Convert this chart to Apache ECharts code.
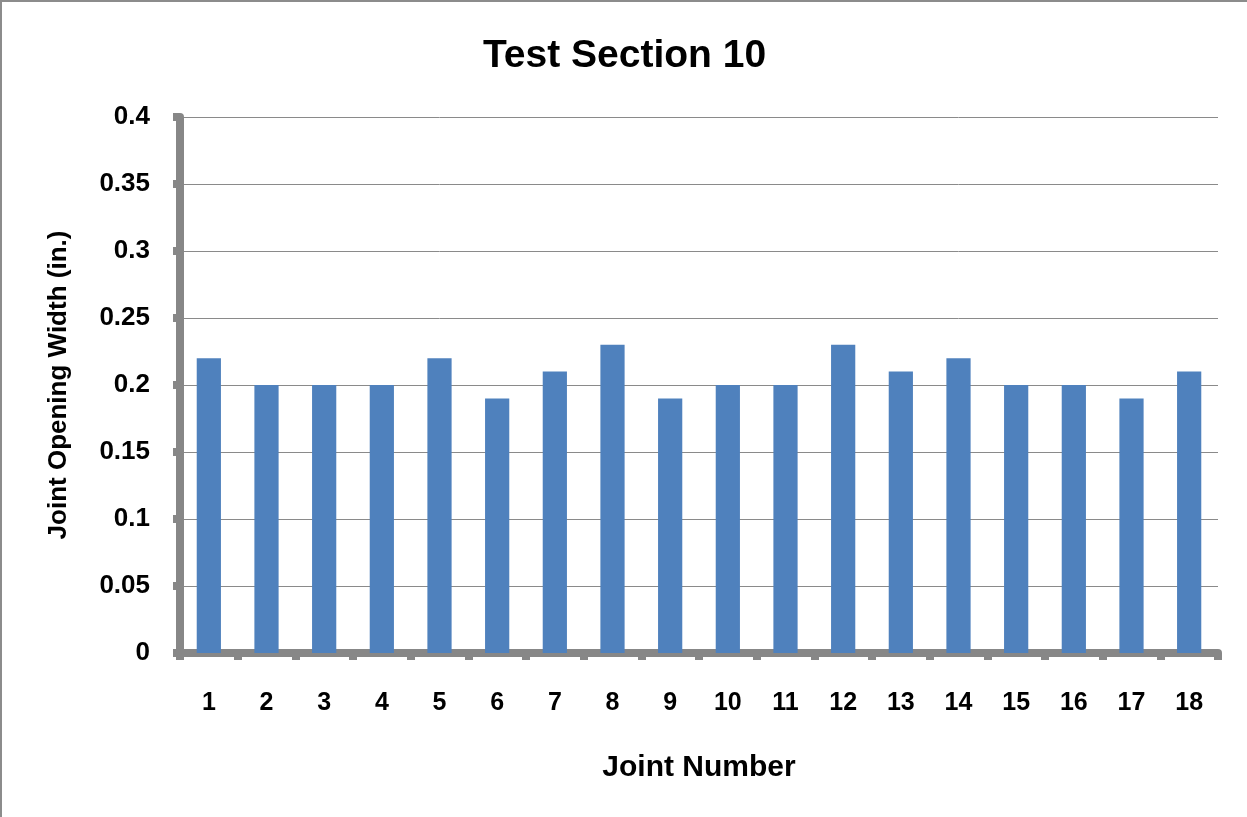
<!DOCTYPE html>
<html>
<head>
<meta charset="utf-8">
<script src="https://cdn.jsdelivr.net/npm/echarts@6/dist/echarts.min.js"></script>
<style>
  html, body { margin: 0; padding: 0; background: #fff; }
  #chart { position: absolute; left: 0; top: 0; width: 1247px; height: 817px; box-sizing: border-box; border-top: 2px solid #8c8c8c; border-left: 2px solid #8c8c8c; }
</style>
</head>
<body>
<div id="chart"></div>
<script>
// joint numbers and measured opening widths
const joints = ['1', '2', '3', '4', '5', '6', '7', '8', '9', '10', '11', '12', '13', '14', '15', '16', '17', '18']
const widths = [0.22, 0.20, 0.20, 0.20, 0.22, 0.19, 0.21, 0.23, 0.19, 0.20, 0.20, 0.23, 0.21, 0.22, 0.20, 0.20, 0.19, 0.21]

const font = 'Liberation Sans'
const axisGray = '#878787'

const myChart = echarts.init(document.getElementById('chart'))
myChart.setOption({
  animation: false,
  title: {
    text: 'Test Section 10',
    left: 'center',
    top: 30,
    textStyle: {fontFamily: font, fontWeight: 'bold', fontSize: 39, color: '#000'}
  },
  grid: {left: 178, right: 29, top: 115, bottom: 164},
  xAxis: {
    type: 'category',
    data: joints,
    name: 'Joint Number',
    nameLocation: 'middle',
    nameGap: 100,
    nameTextStyle: {fontFamily: font, fontWeight: 'bold', fontSize: 30, color: '#000'},
    axisLine: {lineStyle: {color: axisGray, width: 8}},
    axisTick: {show: true, length: 7, lineStyle: {color: axisGray, width: 8}},
    axisLabel: {margin: 38, fontFamily: font, fontWeight: 'bold', fontSize: 25, color: '#000'}
  },
  yAxis: {
    type: 'value',
    min: 0,
    max: 0.4,
    interval: 0.05,
    name: 'Joint Opening Width (in.)',
    nameLocation: 'middle',
    nameGap: 108,
    nameTextStyle: {fontFamily: font, fontWeight: 'bold', fontSize: 26, color: '#000'},
    axisLine: {show: true, lineStyle: {color: axisGray, width: 8}},
    axisTick: {show: true, length: 7, lineStyle: {color: axisGray, width: 8}},
    axisLabel: {margin: 30, fontFamily: font, fontWeight: 'bold', fontSize: 26, color: '#000'},
    splitLine: {lineStyle: {color: '#8a8a8a', width: 1}}
  },
  series: [{
    type: 'bar',
    data: widths,
    barWidth: '42%',
    itemStyle: {color: '#4f81bd'}
  }]
})
</script>
</body>
</html>
